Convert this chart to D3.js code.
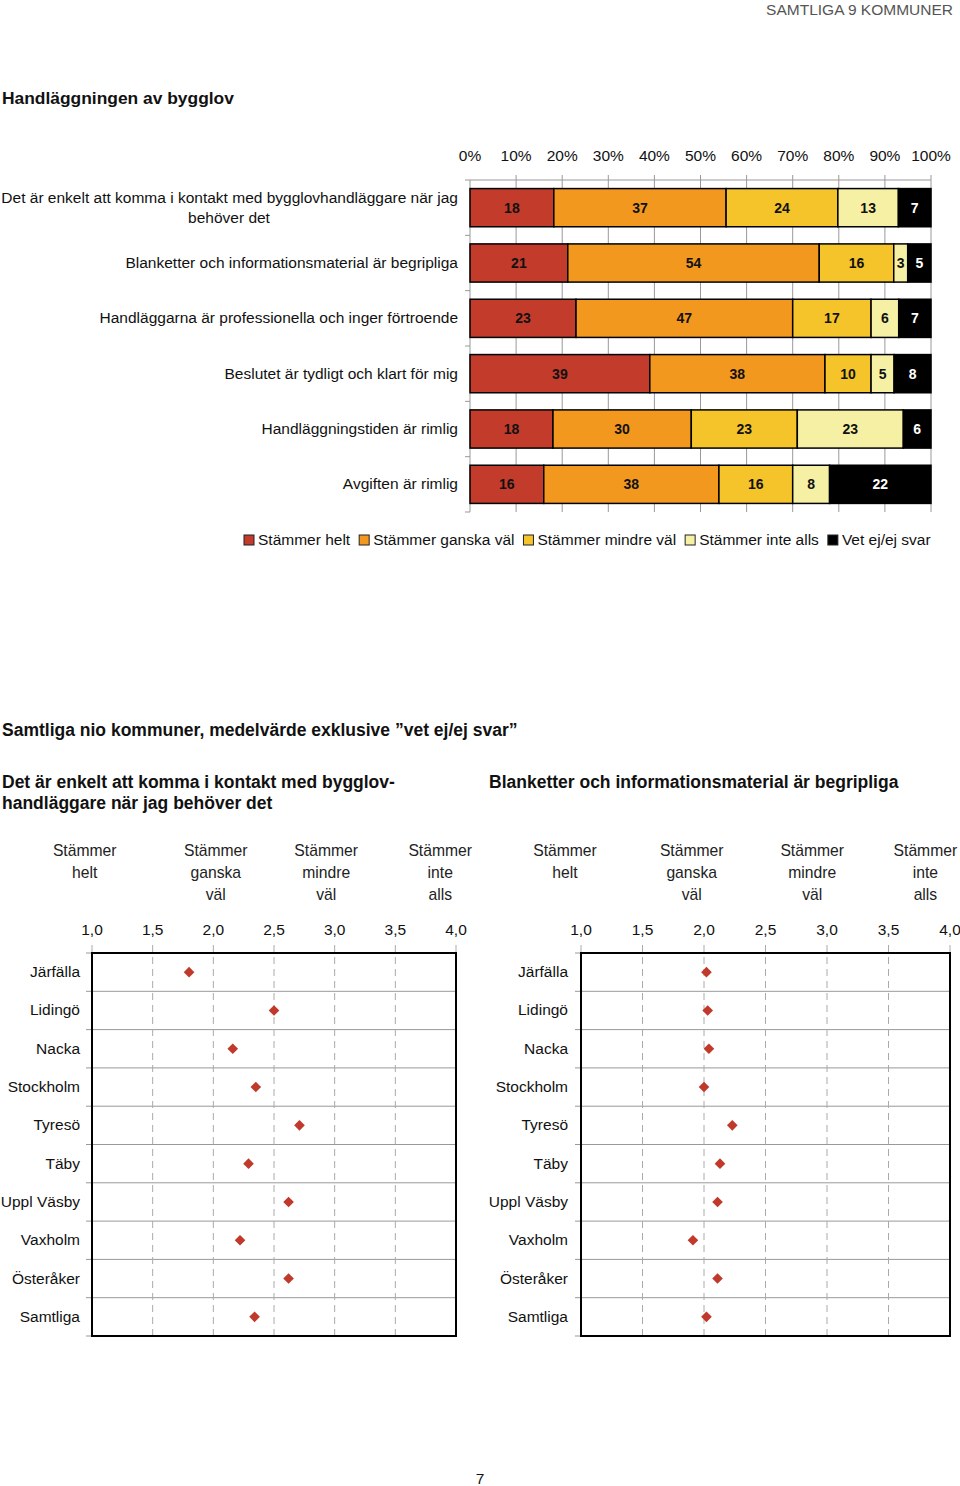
<!DOCTYPE html>
<html>
<head>
<meta charset="utf-8">
<script src="https://cdn.jsdelivr.net/npm/d3@7"></script>
<style>
body { margin: 0; background: #fff; }
svg { font-family: "Liberation Sans", Arial, sans-serif; }
</style>
</head>
<body>
<script>
// data
var questions = [
  ['Det är enkelt att komma i kontakt med bygglovhandläggare när jag', 'behöver det'],
  ['Blanketter och informationsmaterial är begripliga'],
  ['Handläggarna är professionella och inger förtroende'],
  ['Beslutet är tydligt och klart för mig'],
  ['Handläggningstiden är rimlig'],
  ['Avgiften är rimlig']
]
var answers = ['Stämmer helt', 'Stämmer ganska väl', 'Stämmer mindre väl', 'Stämmer inte alls', 'Vet ej/ej svar']
var shares = [
  [18, 37, 24, 13, 7],
  [21, 54, 16, 3, 5],
  [23, 47, 17, 6, 7],
  [39, 38, 10, 5, 8],
  [18, 30, 23, 23, 6],
  [16, 38, 16, 8, 22]
]
var pctTicks = [0, 10, 20, 30, 40, 50, 60, 70, 80, 90, 100]
var colors = ['#c23b2b', '#f3981f', '#f4c42a', '#f6f0a4', '#000000']

var kommuner = ['Järfälla', 'Lidingö', 'Nacka', 'Stockholm', 'Tyresö', 'Täby', 'Uppl Väsby', 'Vaxholm', 'Österåker', 'Samtliga']
var meanKontakt = [1.80, 2.50, 2.16, 2.35, 2.71, 2.29, 2.62, 2.22, 2.62, 2.34]
var meanBlanketter = [2.02, 2.03, 2.04, 2.00, 2.23, 2.13, 2.11, 1.91, 2.11, 2.02]
var scaleTicks = [1.0, 1.5, 2.0, 2.5, 3.0, 3.5, 4.0]
var scaleHeads = [['Stämmer', 'helt'], ['Stämmer', 'ganska', 'väl'], ['Stämmer', 'mindre', 'väl'], ['Stämmer', 'inte', 'alls']]

var svg = d3.select('body').append('svg').attr('width', 960).attr('height', 1486)

svg.append('text').attr('x', 953).attr('y', 15).attr('text-anchor', 'end')
  .attr('font-size', 15.5).attr('fill', '#555').text('SAMTLIGA 9 KOMMUNER')

svg.append('text').attr('x', 2).attr('y', 104).attr('font-size', 17.4)
  .attr('font-weight', 'bold').attr('fill', '#111').text('Handläggningen av bygglov')

// stacked bar chart
var x = d3.scaleLinear().domain([0, 100]).range([470, 931])
var y = d3.scaleBand().domain(d3.range(questions.length)).range([180, 512]).paddingInner(0.31).paddingOuter(0.155)
var yRow = d3.scaleBand().domain(d3.range(questions.length)).range([180, 512])

var barG = svg.append('g')

// gridlines
barG.selectAll('.grid').data(pctTicks.slice(1)).enter().append('line')
  .attr('x1', function(d) { return x(d) }).attr('x2', function(d) { return x(d) })
  .attr('y1', 175).attr('y2', 512).attr('stroke', '#999').attr('stroke-width', 1)

barG.append('line').attr('x1', 470).attr('x2', 931).attr('y1', 180).attr('y2', 180).attr('stroke', '#999')
barG.append('line').attr('x1', 470).attr('x2', 470).attr('y1', 180).attr('y2', 512).attr('stroke', '#999')
barG.selectAll('.ytick').data(d3.range(questions.length + 1)).enter().append('line')
  .attr('x1', 465).attr('x2', 470)
  .attr('y1', function(d) { return 180 + d * yRow.bandwidth() })
  .attr('y2', function(d) { return 180 + d * yRow.bandwidth() })
  .attr('stroke', '#999')

barG.selectAll('.pct').data(pctTicks).enter().append('text')
  .attr('x', function(d) { return x(d) }).attr('y', 161).attr('text-anchor', 'middle')
  .attr('font-size', 15.5).attr('fill', '#111').text(function(d) { return d + '%' })

var rows = barG.selectAll('.row').data(shares).enter().append('g')
rows.each(function(vals, i) {
  var total = d3.sum(vals), acc = 0
  var segs = vals.map(function(v, j) {
    var s = { k: j, v: v, x0: acc / total * 100, x1: (acc + v) / total * 100 }
    acc += v
    return s
  })
  var g = d3.select(this)
  g.selectAll('rect').data(segs).enter().append('rect')
    .attr('x', function(d) { return x(d.x0) }).attr('width', function(d) { return x(d.x1) - x(d.x0) })
    .attr('y', y(i)).attr('height', y.bandwidth())
    .attr('fill', function(d) { return colors[d.k] }).attr('stroke', '#000').attr('stroke-width', 1.5)
  g.selectAll('text').data(segs).enter().append('text')
    .attr('x', function(d) { return (x(d.x0) + x(d.x1)) / 2 })
    .attr('y', y(i) + y.bandwidth() / 2 + 5).attr('text-anchor', 'middle')
    .attr('font-size', 14).attr('font-weight', 'bold')
    .attr('fill', function(d) { return d.k == 4 ? '#fff' : '#111' })
    .text(function(d) { return d.v })
})

// question labels
questions.forEach(function(q, i) {
  var cy = yRow(i) + yRow.bandwidth() / 2
  if (q.length == 1) {
    svg.append('text').attr('x', 458).attr('y', cy + 5).attr('text-anchor', 'end')
      .attr('font-size', 15.5).attr('fill', '#111').text(q[0])
  } else {
    svg.append('text').attr('x', 458).attr('y', cy - 5).attr('text-anchor', 'end')
      .attr('font-size', 15.5).attr('fill', '#111').text(q[0])
    svg.append('text').attr('x', 229).attr('y', cy + 15).attr('text-anchor', 'middle')
      .attr('font-size', 15.5).attr('fill', '#111').text(q[1])
  }
})

// legend, items laid out one after another
var legPos = 244
answers.forEach(function(a, i) {
  var g = svg.append('g').attr('transform', 'translate(' + legPos + ',535)')
  g.append('rect').attr('width', 10).attr('height', 10)
    .attr('fill', colors[i]).attr('stroke', '#222').attr('stroke-width', 1)
  var t = g.append('text').attr('x', 14).attr('y', 10).attr('font-size', 15.5).attr('fill', '#111').text(a)
  legPos += 14 + t.node().getComputedTextLength() + 9
})

// second section
svg.append('text').attr('x', 2).attr('y', 736).attr('font-size', 17.5).attr('font-weight', 'bold')
  .attr('fill', '#111').text('Samtliga nio kommuner, medelvärde exklusive ”vet ej/ej svar”')

svg.append('text').attr('x', 2).attr('y', 788).attr('font-size', 17.5).attr('font-weight', 'bold')
  .attr('fill', '#111').text('Det är enkelt att komma i kontakt med bygglov-')
svg.append('text').attr('x', 2).attr('y', 809).attr('font-size', 17.5).attr('font-weight', 'bold')
  .attr('fill', '#111').text('handläggare när jag behöver det')
svg.append('text').attr('x', 489).attr('y', 788).attr('font-size', 17.5).attr('font-weight', 'bold')
  .attr('fill', '#111').text('Blanketter och informationsmaterial är begripliga')

function dotPlot(values, left, right, labelX, headAt) {
  var sx = d3.scaleLinear().domain([1, 4]).range([left, right])
  var sy = d3.scaleBand().domain(kommuner).range([953, 1336])
  var g = svg.append('g')

  scaleHeads.forEach(function(lines, i) {
    lines.forEach(function(t, j) {
      g.append('text').attr('x', sx(headAt[i])).attr('y', 856 + j * 22).attr('text-anchor', 'middle')
        .attr('font-size', 15.7).attr('fill', '#222').text(t)
    })
  })

  g.selectAll('.tl').data(scaleTicks).enter().append('text')
    .attr('x', function(d) { return sx(d) }).attr('y', 935).attr('text-anchor', 'middle')
    .attr('font-size', 15.5).attr('fill', '#111').text(function(d) { return d3.format('.1f')(d).replace('.', ',') })

  // row separators
  g.selectAll('.sep').data(kommuner.slice(1)).enter().append('line')
    .attr('x1', left).attr('x2', right)
    .attr('y1', function(d) { return sy(d) }).attr('y2', function(d) { return sy(d) })
    .attr('stroke', '#999').attr('stroke-width', 1)
  g.selectAll('.ytk').data(kommuner.concat([null])).enter().append('line')
    .attr('x1', left - 6).attr('x2', left)
    .attr('y1', function(d, i) { return 953 + i * sy.bandwidth() })
    .attr('y2', function(d, i) { return 953 + i * sy.bandwidth() })
    .attr('stroke', '#999')

  // dashed gridlines
  g.selectAll('.vg').data(scaleTicks).enter().append('line')
    .attr('x1', function(d) { return sx(d) }).attr('x2', function(d) { return sx(d) })
    .attr('y1', 945).attr('y2', 1340)
    .attr('stroke', '#aaa').attr('stroke-width', 1).attr('stroke-dasharray', '7,5')

  g.append('rect').attr('x', left).attr('y', 953).attr('width', right - left).attr('height', 383)
    .attr('fill', 'none').attr('stroke', '#000').attr('stroke-width', 2)

  g.selectAll('.rl').data(kommuner).enter().append('text')
    .attr('x', labelX).attr('y', function(d) { return sy(d) + sy.bandwidth() / 2 + 5 })
    .attr('text-anchor', 'end').attr('font-size', 15.5).attr('fill', '#111').text(function(d) { return d })

  g.selectAll('.dot').data(values).enter().append('path')
    .attr('d', d3.symbol().type(d3.symbolDiamond2).size(72))
    .attr('transform', function(d, i) { return 'translate(' + sx(d) + ',' + (sy(kommuner[i]) + sy.bandwidth() / 2) + ')' })
    .attr('fill', '#c0392b')
}

dotPlot(meanKontakt, 92, 456, 80, [0.94, 2.02, 2.93, 3.87])
dotPlot(meanBlanketter, 581, 950, 568, [0.87, 1.9, 2.88, 3.8])

svg.append('text').attr('x', 480).attr('y', 1484).attr('text-anchor', 'middle')
  .attr('font-size', 15.5).attr('fill', '#111').text('7')
</script>
</body>
</html>
